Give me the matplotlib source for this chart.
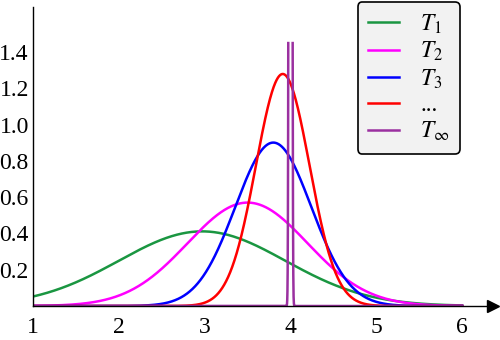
import numpy as np
import matplotlib
matplotlib.use("Agg")
import matplotlib.pyplot as plt

plt.rcParams["font.family"] = ["Liberation Serif", "DejaVu Serif"]
plt.rcParams["mathtext.fontset"] = "stix"

# distribution parameters (mean, sigma)
labels = [r"$T_1$", r"$T_2$", r"$T_3$", "...", r"$T_\infty$"]
means = [2.97, 3.5, 3.8, 3.91, 4.0]
sigmas = [0.97, 0.70, 0.443, 0.312, 0.01]
colors = ["#1a9641", "#ff00ff", "#0000ff", "#ff0000", "#9b30a0"]
x_ticks = [1, 2, 3, 4, 5, 6]
y_ticks = [0.2, 0.4, 0.6, 0.8, 1.0, 1.2, 1.4]
spike_cut = 1.52  # the T_inf spike is drawn only up to this height

x = np.linspace(1, 6, 20001)

fig = plt.figure(figsize=(5, 3.4), dpi=100)
ax = fig.add_axes([0.066, 0.1, 0.92, 0.879])

for lab, mu, sd, c in zip(labels, means, sigmas, colors):
    y = np.exp(-0.5 * ((x - mu) / sd) ** 2) / (sd * np.sqrt(2 * np.pi))
    y = np.where(y > spike_cut, np.nan, y)
    ax.plot(x, y, color=c, lw=1.8, label=lab)

ax.set_xlim(1, 6.36)
ax.set_ylim(0, 1.647)
ax.set_xticks(x_ticks)
ax.set_yticks(y_ticks)
ax.set_yticklabels([f"{v:.1f}" for v in y_ticks])
ax.tick_params(length=0, labelsize=17)
ax.tick_params(axis="x", pad=8)
ax.tick_params(axis="y", pad=3)

for s in ["top", "right"]:
    ax.spines[s].set_visible(False)
for s in ["left", "bottom"]:
    ax.spines[s].set_linewidth(1.0)

# arrow heads on the axes
ax.plot(1, 0, ">k", ms=8, transform=ax.get_yaxis_transform(), clip_on=False)
ax.plot(0, 1, "^k", ms=8, transform=ax.get_xaxis_transform(), clip_on=False)

leg = ax.legend(loc="upper right", bbox_to_anchor=(0.92, 0.994),
                bbox_transform=fig.transFigure, borderaxespad=0, fontsize=17,
                fancybox=True, framealpha=1, facecolor="#f2f2f2",
                edgecolor="black", handlelength=1.3, labelspacing=0.17,
                borderpad=0.45, handletextpad=0.9)
leg.get_frame().set_linewidth(1.2)

fig.savefig("out.png", dpi=100)
